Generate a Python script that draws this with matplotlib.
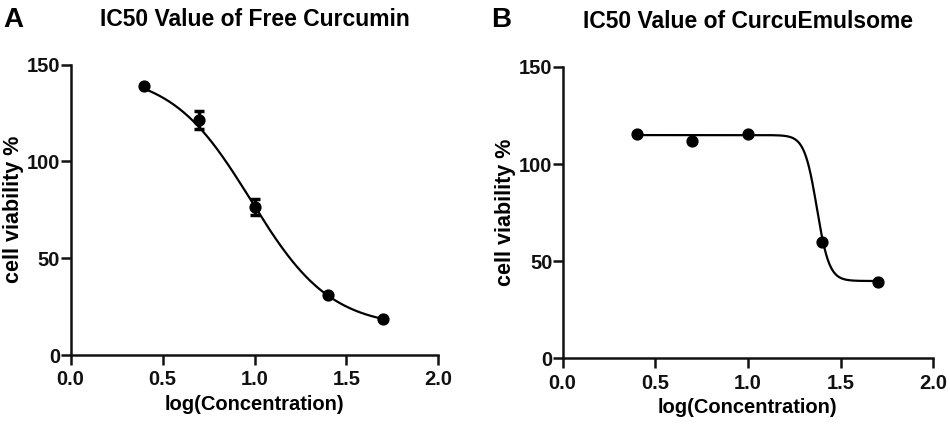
import numpy as np
import matplotlib
matplotlib.use("Agg")
import matplotlib.pyplot as plt

plt.rcParams['font.family'] = ['Liberation Sans', 'DejaVu Sans']
plt.rcParams['font.weight'] = 'bold'

# Data
log_conc = [0.4, 0.7, 1.0, 1.4, 1.7]
free_viab = [138.8, 121.3, 76.5, 31.0, 18.4]
free_err = [0.0, 4.5, 4.2, 0.0, 0.0]
emul_viab = [115.7, 111.8, 115.7, 60.0, 39.4]

# 4-parameter logistic fit parameters (top, bottom, logIC50, hill)
free_fit = (146.0, 14.0, 0.98, 2.0)
emul_fit = (114.9, 39.8, 1.372, 13.0)

titles = ["IC50 Value of Free Curcumin", "IC50 Value of CurcuEmulsome"]
panel_letters = ["A", "B"]
xticks = [0.0, 0.5, 1.0, 1.5, 2.0]
yticks = [0, 50, 100, 150]


def four_pl(x, top, bottom, logc, hill):
    return bottom + (top - bottom) / (1 + 10 ** ((x - logc) * hill))


fig = plt.figure(figsize=(9.5, 4.33), dpi=100)
axA = fig.add_axes([0.0744, 0.180, 0.387, 0.671])
axB = fig.add_axes([0.5923, 0.1725, 0.390, 0.673])

datasets = [(axA, free_viab, free_err, free_fit), (axB, emul_viab, None, emul_fit)]

for i, (ax, yv, ye, fit) in enumerate(datasets):
    xs = np.linspace(min(log_conc), max(log_conc), 300)
    ax.plot(xs, four_pl(xs, *fit), color='black', lw=1.6, zorder=2)
    if ye is not None:
        ax.errorbar(log_conc, yv, yerr=ye, fmt='o', color='black', ms=7.8,
                    elinewidth=2.5, capsize=3.4, capthick=2.5, zorder=3)
    else:
        ax.plot(log_conc, yv, 'o', color='black', ms=7.8, zorder=3)
    ax.set_xlim(0, 2)
    ax.set_ylim(0, 150)
    ax.set_xticks(xticks)
    ax.set_xticklabels([f"{t:.1f}" for t in xticks])
    ax.set_yticks(yticks)
    for s in ['top', 'right']:
        ax.spines[s].set_visible(False)
    for s in ['left', 'bottom']:
        ax.spines[s].set_linewidth(1.8)
        ax.spines[s].set_color('#111111')
    ax.tick_params(axis='both', direction='out', length=7, width=1.8,
                   labelsize=14.5, colors='#111111')
    ax.tick_params(axis='y', pad=0.5)
    ax.tick_params(axis='x', pad=4)
    for lbl in ax.get_xticklabels() + ax.get_yticklabels():
        lbl.set_fontweight('bold')
    ax.set_xlabel("log(Concentration)", fontsize=14.5, fontweight='bold', labelpad=4)
    ax.set_ylabel("cell viability %", fontsize=15.5, fontweight='bold', labelpad=2)
    ax.set_title(titles[i], fontsize=16.5, fontweight='bold', pad=28)

fig.text(0.003, 0.938, panel_letters[0], fontsize=20, fontweight='bold')
fig.text(0.517, 0.938, panel_letters[1], fontsize=20, fontweight='bold')

fig.savefig("out.png", dpi=100)
